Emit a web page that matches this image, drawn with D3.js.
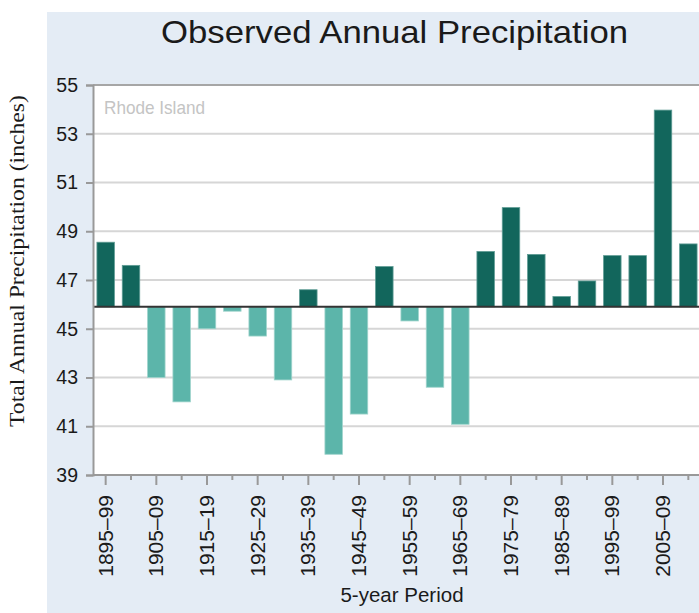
<!DOCTYPE html>
<meta charset="utf-8">
<script src="https://d3js.org/d3.v7.min.js"></script>
<html>
<head>
  <title>Observed Annual Precipitation</title>
  <style>
    body { margin: 0; background: #fff; }
    svg { display: block; }
  </style>
</head>
<body>
  <div id="my_dataviz"></div>
</body>
</html>

<script>
  // 5-year periods (every bar) and observed totals in inches
  var periods = ["1895–99", "1900–04", "1905–09", "1910–14", "1915–19", "1920–24",
                 "1925–29", "1930–34", "1935–39", "1940–44", "1945–49", "1950–54",
                 "1955–59", "1960–64", "1965–69", "1970–74", "1975–79", "1980–84",
                 "1985–89", "1990–94", "1995–99", "2000–04", "2005–09", "2010–14"];
  var precip = [48.55, 47.6, 43.0, 42.0, 45.0, 45.72,
                44.7, 42.9, 46.6, 39.85, 41.5, 47.55,
                45.32, 42.6, 41.08, 48.17, 49.97, 48.05,
                46.32, 46.96, 48.0, 48.0, 53.97, 48.48];
  var average = 45.9;
  var yTicks = [39, 41, 43, 45, 47, 49, 51, 53, 55];

  var W = 699, H = 613;
  var plot = {left: 93, top: 85, right: 701, bottom: 475};

  var svg = d3.select("#my_dataviz")
    .append("svg")
      .attr("width", W)
      .attr("height", H);

  // light blue panel
  svg.append("rect")
    .attr("x", 47).attr("y", 12)
    .attr("width", W - 47).attr("height", H - 12)
    .style("fill", "#e4ecf5");

  // white plot area
  svg.append("rect")
    .attr("x", plot.left).attr("y", plot.top)
    .attr("width", W - plot.left).attr("height", plot.bottom - plot.top)
    .style("fill", "#ffffff");

  var x = d3.scaleBand()
    .domain(periods)
    .range([plot.left, plot.right])
    .paddingInner(0.31)
    .paddingOuter(0.155);

  var y = d3.scaleLinear()
    .domain([39, 55])
    .range([plot.bottom, plot.top]);

  // gridlines
  svg.append("g")
    .selectAll("line")
    .data(yTicks.slice(1))
    .enter()
    .append("line")
      .attr("x1", plot.left).attr("x2", W)
      .attr("y1", function(d) { return y(d); })
      .attr("y2", function(d) { return y(d); })
      .style("stroke", function(d) { return d == 55 ? "#a6a6a6" : "#d6d6d6"; })
      .style("stroke-width", 2);

  // bars, measured from the 20th century average
  svg.append("g")
    .selectAll("rect")
    .data(precip)
    .enter()
    .append("rect")
      .attr("x", function(d, i) { return x(periods[i]); })
      .attr("y", function(d) { return y(Math.max(d, average)); })
      .attr("width", x.bandwidth())
      .attr("height", function(d) { return Math.abs(y(d) - y(average)); })
      .style("fill", function(d) { return d >= average ? "#12665c" : "#5cb5aa"; })
      .style("stroke", function(d) { return d >= average ? "#5f9c94" : "#9fd4cc"; })
      .style("stroke-width", 0.8);

  // average line
  svg.append("line")
    .attr("x1", plot.left).attr("x2", W)
    .attr("y1", y(average)).attr("y2", y(average))
    .style("stroke", "#333")
    .style("stroke-width", 2);

  // Y axis
  var yAxis = svg.append("g")
    .attr("transform", "translate(" + plot.left + ",0)")
    .call(d3.axisLeft(y).tickValues(yTicks).tickSize(7).tickPadding(8));
  yAxis.select(".domain").style("stroke", "#999").style("stroke-width", 2);
  yAxis.selectAll(".tick line").style("stroke", "#999").style("stroke-width", 2);
  yAxis.selectAll(".tick text")
    .style("font-family", "'Liberation Sans', Arial, sans-serif")
    .style("font-size", "19.5px")
    .style("fill", "#1a1a1a");

  // X axis: long ticks on labelled periods, short ticks between
  var xAxis = svg.append("g")
    .attr("transform", "translate(0," + plot.bottom + ")")
    .call(d3.axisBottom(x).tickSize(10).tickSizeOuter(0)
      .tickFormat(function(d, i) { return i % 2 == 0 ? d : ""; }));
  xAxis.select(".domain")
    .attr("d", "M" + plot.left + ",0H" + W)
    .style("stroke", "#999").style("stroke-width", 2);
  xAxis.selectAll(".tick line")
    .attr("y2", function(d, i) { return i % 2 == 0 ? 10 : 5; })
    .style("stroke", "#999").style("stroke-width", 2);
  xAxis.selectAll(".tick text")
    .attr("transform", "translate(7,20)rotate(-90)")
    .attr("x", 0).attr("y", 0).attr("dy", 0)
    .style("text-anchor", "end")
    .style("font-family", "'Liberation Sans', Arial, sans-serif")
    .style("font-size", "21px")
    .style("fill", "#1a1a1a");

  // state label
  svg.append("text")
    .attr("x", 104)
    .attr("y", 114)
    .attr("textLength", 101)
    .attr("lengthAdjust", "spacingAndGlyphs")
    .style("font-family", "'Liberation Sans', Arial, sans-serif")
    .style("font-size", "19px")
    .style("fill", "#c4c4c4")
    .text("Rhode Island");

  // title
  svg.append("text")
    .attr("x", 394.5)
    .attr("y", 43)
    .attr("text-anchor", "middle")
    .attr("textLength", 467)
    .attr("lengthAdjust", "spacingAndGlyphs")
    .style("font-family", "'Liberation Sans', Arial, sans-serif")
    .style("font-size", "32px")
    .style("fill", "#1a1a1a")
    .text("Observed Annual Precipitation");

  // x axis title
  svg.append("text")
    .attr("x", 402)
    .attr("y", 602)
    .attr("text-anchor", "middle")
    .style("font-family", "'Liberation Sans', Arial, sans-serif")
    .style("font-size", "20.5px")
    .style("fill", "#1a1a1a")
    .text("5-year Period");

  // y axis title
  svg.append("text")
    .attr("transform", "translate(24,261)rotate(-90)")
    .attr("text-anchor", "middle")
    .attr("textLength", 332)
    .attr("lengthAdjust", "spacingAndGlyphs")
    .style("font-family", "'Liberation Serif', 'Times New Roman', serif")
    .style("font-size", "21px")
    .style("fill", "#1a1a1a")
    .text("Total Annual Precipitation (inches)");
</script>
